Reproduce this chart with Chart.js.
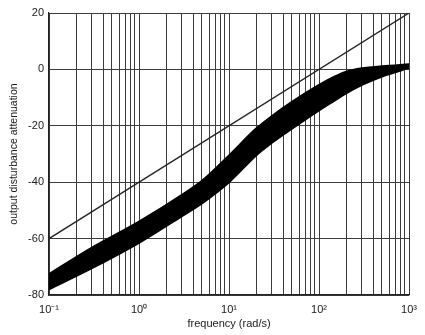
<!DOCTYPE html>
<html><head><meta charset="utf-8">
<script src="https://cdn.jsdelivr.net/npm/chart.js@4/dist/chart.umd.min.js"></script>
<style>html,body{margin:0;padding:0;background:#fff}#wrap{width:425px;height:335px}</style>
</head><body><div id="wrap"><canvas id="c"></canvas></div>
<script>
// ---- data ----
const bandFreq  = [0.1, 0.3, 1, 3, 5, 10, 20, 30, 50, 100, 150, 200, 300, 500, 1000];
const bandUpper = [-72.6, -63.2, -54, -44.5, -39.5, -30.5, -21, -16.5, -11.5, -5.5, -2.5, -0.8, 0.4, 1.1, 1.8];
const bandLower = [-78, -70.5, -61.5, -52, -47.5, -40, -30.5, -26, -21, -14.5, -11, -8.5, -5.5, -2.5, 0.5];
const refFreq = [0.1, 1000];
const refLine = [-60, 20];
const yTickValues = [-80, -60, -40, -20, 0, 20];
const xDecades = [0.1, 1, 10, 100, 1000];
const xDecadeLabels = ['10\u207B\u00B9', '10\u2070', '10\u00B9', '10\u00B2', '10\u00B3'];
const xMultipliers = [1, 2, 3, 4, 5, 6, 7, 8, 9];
const xTitle = 'frequency (rad/s)';
const yTitle = 'output disturbance attenuation';

// ---- build ----
const xTickValues = [];
xDecades.forEach(d => {
  if (d === 1000) { xTickValues.push(d); return; }
  xMultipliers.forEach(m => xTickValues.push(+(d * m).toPrecision(3)));
});
const toPts = (xs, ys) => xs.map((x, i) => ({x, y: ys[i]}));
const font = {family: '"Liberation Sans", Arial, sans-serif', size: 11};
const ink = '#1a1a1a';

new Chart(document.getElementById('c'), {
  type: 'line',
  data: {
    datasets: [
      {data: toPts(bandFreq, bandUpper), borderColor: '#000', borderWidth: 2, pointRadius: 0,
       fill: false, cubicInterpolationMode: 'monotone'},
      {data: toPts(bandFreq, bandLower), borderColor: '#000', borderWidth: 2, pointRadius: 0,
       fill: '-1', backgroundColor: '#000', cubicInterpolationMode: 'monotone'},
      {data: toPts(refFreq, refLine), borderColor: '#222', borderWidth: 1.4, pointRadius: 0, fill: false}
    ]
  },
  options: {
    responsive: true, maintainAspectRatio: false, animation: false,
    layout: {padding: {top: 13, right: 10, left: 0, bottom: 0}},
    plugins: {legend: {display: false}, tooltip: {enabled: false}},
    scales: {
      x: {
        type: 'logarithmic', min: 0.1, max: 1000,
        afterBuildTicks: s => { s.ticks = xTickValues.map(v => ({value: v})); },
        afterFit: s => { s.height = 40; },
        grid: {color: '#3c3c3c', lineWidth: 1, drawTicks: false},
        border: {color: '#222', width: 1.2},
        ticks: {
          autoSkip: false, maxRotation: 0, padding: 8, color: ink, font,
          callback: v => { const i = xDecades.indexOf(v); return i >= 0 ? xDecadeLabels[i] : ''; }
        },
        title: {display: true, text: xTitle, color: ink, font, padding: {top: 0, bottom: 4}}
      },
      y: {
        min: -80, max: 20,
        afterBuildTicks: s => { s.ticks = yTickValues.map(v => ({value: v})); },
        afterFit: s => { s.width = 49; },
        grid: {color: '#3c3c3c', lineWidth: 1, drawTicks: false},
        border: {color: '#222', width: 1.2},
        ticks: {padding: 5, color: ink, font},
        title: {display: true, text: yTitle, color: ink, font: {...font, size: 10.5}, padding: {top: 8, bottom: 0}}
      }
    }
  }
});
</script></body></html>
